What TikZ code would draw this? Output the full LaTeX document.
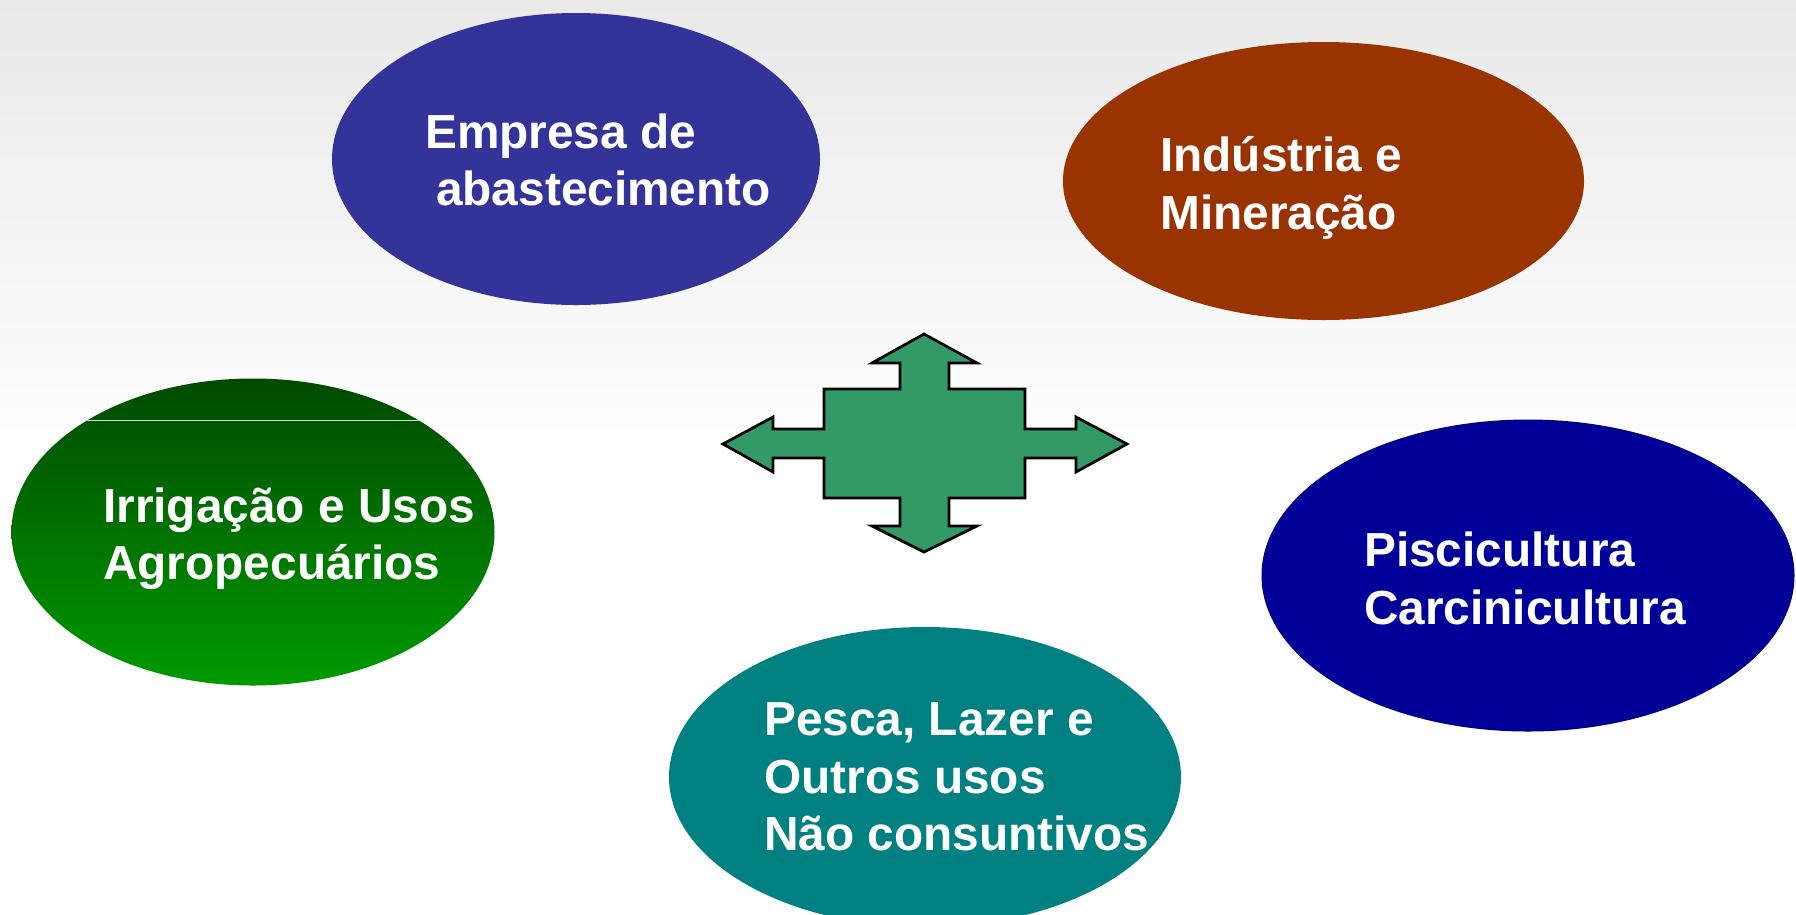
\documentclass[tikz,border=0pt]{standalone}
\usepackage{fontspec}
\setmainfont{Liberation Sans}
\usetikzlibrary{shapes.geometric}
\definecolor{empresa}{HTML}{333399}
\definecolor{industria}{HTML}{993300}
\definecolor{pisci}{HTML}{000099}
\definecolor{pesca}{HTML}{008080}
\definecolor{agrotop}{HTML}{004A00}
\definecolor{agrobot}{HTML}{009A00}
\definecolor{arrowfill}{HTML}{339966}
\definecolor{bgtop}{HTML}{E9E9E9}
\tikzset{
  oval/.style={ellipse, inner sep=0pt, draw=none},
  lbl/.style={anchor=base west, inner sep=0pt, text=white,
              font=\fontsize{47.8}{57}\selectfont\bfseries},
}
\begin{document}
\begin{tikzpicture}[x=1pt,y=-1pt]
\useasboundingbox (0,0) rectangle (1796,914);
% background
\fill[white] (0,0) rectangle (1796,914);
\shade[top color=bgtop, bottom color=white] (0,0) rectangle (1796,460);

% ellipses
\node[oval, fill=empresa, minimum width=488, minimum height=292] (emp) at (576,159) {};
\node[oval, fill=industria, minimum width=521, minimum height=278] (ind) at (1323.5,181) {};
\node[oval, top color=agrotop, bottom color=agrobot, minimum width=483, minimum height=307] (agro) at (253,532) {};
\node[oval, fill=pisci, draw=pisci!80!black, line width=1pt, minimum width=532, minimum height=311] (pis) at (1528,575.5) {};
\node[oval, fill=pesca, minimum width=512, minimum height=300] (pes) at (925,777) {};

% artifact line across green ellipse
\begin{scope}
  \clip (agro.center) ellipse [x radius=241.5, y radius=153.5];
  \draw[white!70!gray, line width=0.8pt] (0,420) -- (500,420);
\end{scope}

% labels
\node[lbl] (emp1) at (425,148) {Empresa de};
\node[lbl] (emp2) at (436,205) {abastecimento};
\node[lbl] (ind1) at (1160,171) {Indústria e};
\node[lbl] (ind2) at (1160,229) {Mineração};
\node[lbl] (agro1) at (103,522) {Irrigação e Usos};
\node[lbl] (agro2) at (103,579) {Agropecuários};
\node[lbl] (pis1) at (1364,566) {Piscicultura};
\node[lbl] (pis2) at (1364,624) {Carcinicultura};
\node[lbl] (pes1) at (764,735) {Pesca, Lazer e};
\node[lbl] (pes2) at (764,793) {Outros usos};
\node[lbl] (pes3) at (764,850) {Não consuntivos};

% central four-way arrow
\coordinate (hub) at (924,444);
\draw[fill=arrowfill, draw=black, line width=2.7pt, line join=miter]
  (924,334) -- (977,363) -- (949,363) -- (949,389) -- (1025,389) -- (1025,429)
  -- (1076,429) -- (1076,417) -- (1127,444) -- (1076,472) -- (1076,458)
  -- (1025,458) -- (1025,498) -- (949,498) -- (949,526) -- (977,526)
  -- (924,552) -- (872,526) -- (900,526) -- (900,498) -- (824,498)
  -- (824,458) -- (773,458) -- (773,472) -- (723,444) -- (773,417)
  -- (773,429) -- (824,429) -- (824,389) -- (900,389) -- (900,363)
  -- (872,363) -- cycle;
\end{tikzpicture}
\end{document}
